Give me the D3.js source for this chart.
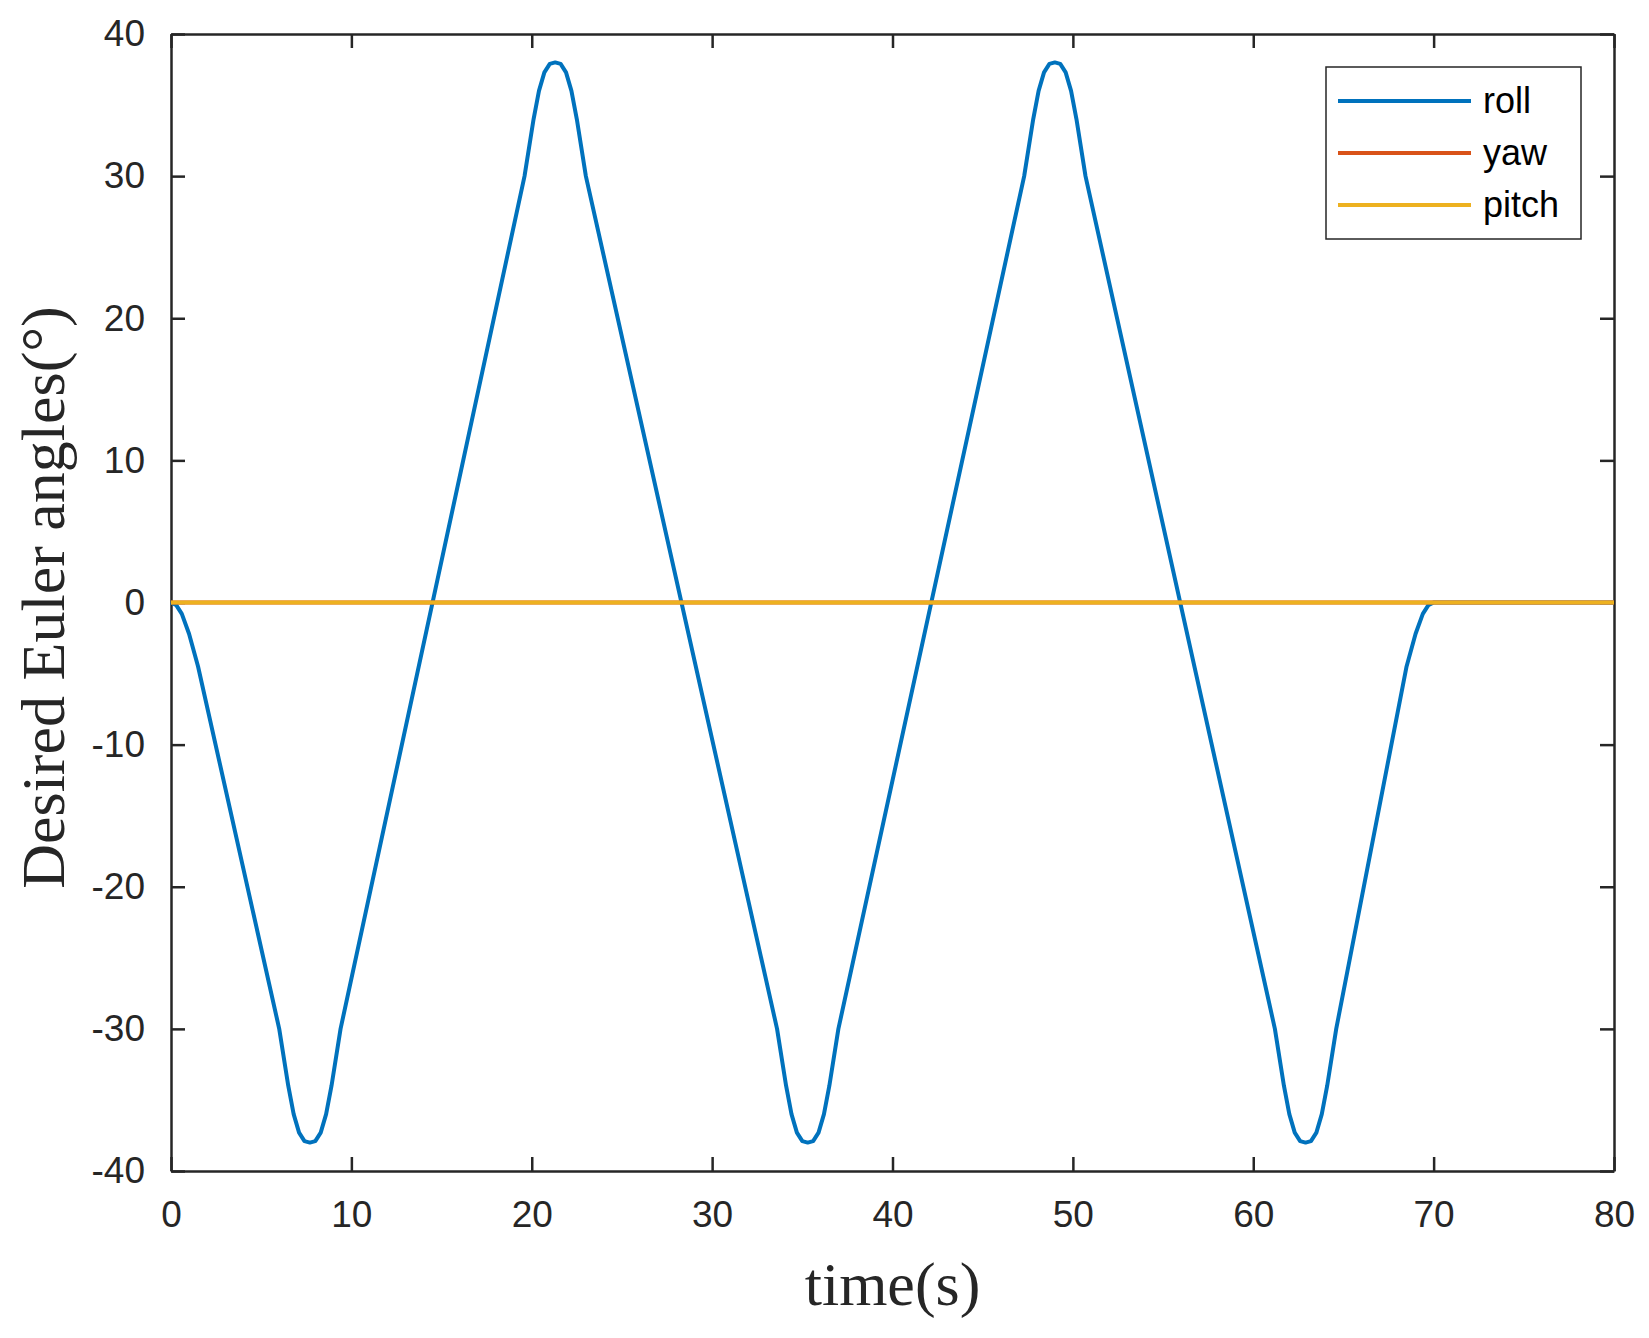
<!DOCTYPE html>
<html><head><meta charset="utf-8">
<script src="https://cdn.jsdelivr.net/npm/d3@7"></script>
<style>body{margin:0;background:#fff}</style>
</head><body>
<script>
// data
var rollT = [0,0.3,0.6,1.0,1.5,
             6.0,6.5,6.8,7.1,7.4,7.7,8.0,8.3,8.6,8.9,9.4,
             19.6,20.1,20.4,20.7,21.0,21.3,21.6,21.9,22.2,22.5,23.0,
             33.6,34.1,34.4,34.7,35.0,35.3,35.6,35.9,36.2,36.5,37.0,
             47.3,47.8,48.1,48.4,48.7,49.0,49.3,49.6,49.9,50.2,50.7,
             61.2,61.7,62.0,62.3,62.6,62.9,63.2,63.5,63.8,64.1,64.6,
             68.5,69.0,69.4,69.7,70,80];
var rollV = [0,-0.2,-0.8,-2.2,-4.5,
             -30,-34,-36,-37.3,-37.9,-38,-37.9,-37.3,-36,-34,-30,
             30,34,36,37.3,37.9,38,37.9,37.3,36,34,30,
             -30,-34,-36,-37.3,-37.9,-38,-37.9,-37.3,-36,-34,-30,
             30,34,36,37.3,37.9,38,37.9,37.3,36,34,30,
             -30,-34,-36,-37.3,-37.9,-38,-37.9,-37.3,-36,-34,-30,
             -4.5,-2.2,-0.8,-0.2,0,0];
var yawT = [0,80], yawV = [0,0];
var pitchT = [0,80], pitchV = [0,0];
var xTicks = [0,10,20,30,40,50,60,70,80];
var yTicks = [-40,-30,-20,-10,0,10,20,30,40];
var names = ["roll","yaw","pitch"];
var colors = ["#0072BD","#D95319","#EDB120"];

var margin = {top: 34, left: 171, right: 35, bottom: 167};
var W = 1649, H = 1338;
var width = W - margin.left - margin.right;
var height = H - margin.top - margin.bottom;

var x = d3.scaleLinear().domain([0,80]).range([0,width]);
var y = d3.scaleLinear().domain([-40,40]).range([height,0]);

var svg = d3.select("body").append("svg").attr("width", W).attr("height", H);
var g = svg.append("g").attr("transform", "translate(" + margin.left + "," + margin.top + ")");

function styleAxis(a){
    a.selectAll("path,line").attr("stroke","#262626").attr("stroke-width",2.5);
    a.selectAll("text").attr("fill","#262626").style("font-family","Liberation Sans, Arial").style("font-size","37px");
}
var fmt = function(d){ return String(d); };
g.append("g").attr("transform","translate(0," + height + ")")
 .call(d3.axisBottom(x).tickValues(xTicks).tickFormat(fmt).tickSizeInner(-14).tickSizeOuter(0).tickPadding(30)).call(styleAxis);
g.append("g").call(d3.axisLeft(y).tickValues(yTicks).tickFormat(fmt).tickSizeInner(-14).tickSizeOuter(0).tickPadding(26)).call(styleAxis);
g.append("g")
 .call(d3.axisTop(x).tickValues(xTicks).tickSizeInner(-14).tickSizeOuter(0).tickFormat("")).call(styleAxis);
g.append("g").attr("transform","translate(" + width + ",0)")
 .call(d3.axisRight(y).tickValues(yTicks).tickSizeInner(-14).tickSizeOuter(0).tickFormat("")).call(styleAxis);

var line = d3.line().x(function(d){ return x(d[0]); }).y(function(d){ return y(d[1]); }).curve(d3.curveLinear);
var series = [d3.zip(rollT, rollV), d3.zip(yawT, yawV), d3.zip(pitchT, pitchV)];
series.forEach(function(s, i){
    g.append("path").attr("d", line(s)).attr("fill","none")
     .attr("stroke", colors[i]).attr("stroke-width", 4).attr("stroke-linejoin","round");
});

// axis labels
svg.append("text").attr("x", margin.left + width/2).attr("y", 1305).attr("text-anchor","middle")
   .style("font-family","Liberation Serif, Times New Roman").style("font-size","62px").attr("fill","#262626").text("time(s)");
svg.append("text").attr("transform","rotate(-90)").attr("x", -(margin.top + height/2) + 5).attr("y", 64)
   .attr("text-anchor","middle")
   .style("font-family","Liberation Serif, Times New Roman").style("font-size","62px").attr("fill","#262626").text("Desired Euler angles(°)");

// legend
var lg = svg.append("g").attr("transform","translate(1326,67)");
lg.append("rect").attr("width",255).attr("height",172).attr("fill","#fff").attr("stroke","#262626").attr("stroke-width",1.5);
names.forEach(function(n, i){
    var yy = 34 + i*52;
    lg.append("line").attr("x1",12).attr("x2",145).attr("y1",yy).attr("y2",yy).attr("stroke",colors[i]).attr("stroke-width",4);
    lg.append("text").attr("x",157).attr("y",yy+12).attr("fill","#000")
      .style("font-family","Liberation Sans, Arial").style("font-size","36px").text(n);
});
</script>
</body></html>
